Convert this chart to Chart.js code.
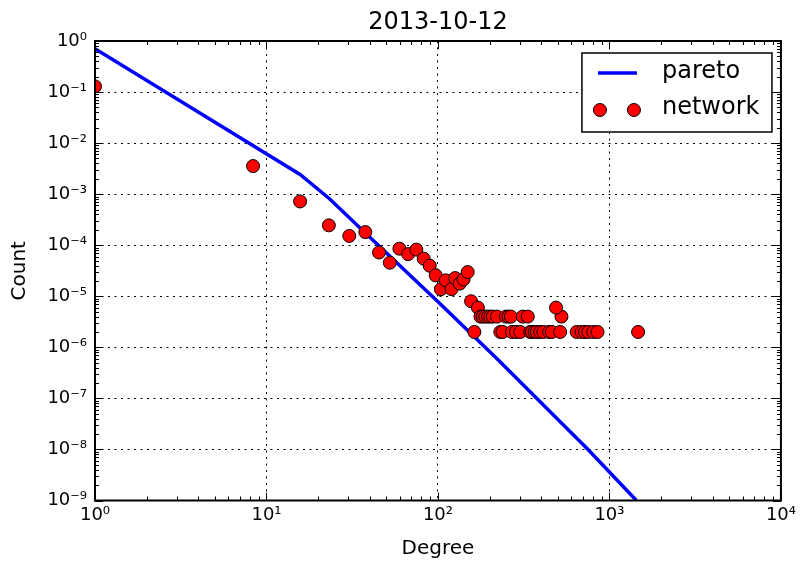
<!DOCTYPE html>
<html>
<head>
<meta charset="utf-8">
<script src="https://cdn.jsdelivr.net/npm/chart.js@4"></script>
<style>
  body { margin: 0; background: #fff; }
  #wrap { width: 800px; height: 563px; }
</style>
</head>
<body>
<div id="wrap"><canvas id="myChart"></canvas></div>
<script>
// ticks (decades)
const xTicks = [1, 10, 100, 1000, 10000];
const yTicks = [1, 1e-1, 1e-2, 1e-3, 1e-4, 1e-5, 1e-6, 1e-7, 1e-8, 1e-9];

// pareto fit line
const paretoDegree = [1, 15.7, 23.3, 36.4, 100.4, 221, 750, 1436];
const paretoCount = [0.706, 2.44e-3, 8.15e-4, 1.95e-4, 7.7e-6, 6.0e-7, 1.0e-8, 1.0e-9];

// network degree distribution
const networkDegree = [
  1, 8.35, 15.7, 23.1, 30.4, 37.7, 45.3, 52.4, 59.6, 67, 74.8, 82.6, 89.5, 97,
  104, 111, 120, 126, 134, 141, 149, 156, 171,
  177, 182.5, 189, 196, 202, 209, 221, 249, 258, 266, 312, 334, 525,
  488,
  163, 231, 238, 270, 285, 302, 345, 353, 366, 377, 395, 412, 445, 461, 516,
  644, 688, 720, 753, 805, 852, 1469
];
const networkCount = [
  0.129, 3.55e-3, 7.2e-4, 2.45e-4, 1.52e-4, 1.81e-4, 7.2e-5, 4.55e-5, 8.55e-5, 6.7e-5, 8.2e-5, 5.45e-5, 3.97e-5, 2.57e-5,
  1.38e-5, 2.05e-5, 1.38e-5, 2.27e-5, 1.77e-5, 2.14e-5, 2.98e-5, 8e-6, 6e-6,
  4e-6, 4e-6, 4e-6, 4e-6, 4e-6, 4e-6, 4e-6, 4e-6, 4e-6, 4e-6, 4e-6, 4e-6, 4e-6,
  6e-6,
  2e-6, 2e-6, 2e-6, 2e-6, 2e-6, 2e-6, 2e-6, 2e-6, 2e-6, 2e-6, 2e-6, 2e-6, 2e-6, 2e-6, 2e-6,
  2e-6, 2e-6, 2e-6, 2e-6, 2e-6, 2e-6, 2e-6
];

const FONT = "'DejaVu Sans', sans-serif";
const sup = { '0': '⁰', '1': '¹', '2': '²', '3': '³', '4': '⁴', '5': '⁵', '6': '⁶', '7': '⁷', '8': '⁸', '9': '⁹', '-': '⁻' };
function powLabel(v) {
  const e = String(Math.round(Math.log10(v)));
  return '10' + e.split('').map(c => sup[c]).join('');
}

function toPoints(xs, ys) {
  return xs.map((x, i) => ({ x: x, y: ys[i] }));
}

// frame + inward ticks on all four sides
const frame = {
  id: 'frame',
  afterDatasetsDraw(chart) {
    const { ctx, chartArea: a, scales: { x, y } } = chart;
    ctx.save();
    ctx.strokeStyle = '#000';
    ctx.lineWidth = 1;
    ctx.beginPath();
    xTicks.forEach((d, i) => {
      for (let m = 1; m <= 9; m++) {
        if (m > 1 && i === xTicks.length - 1) break;
        const px = Math.round(x.getPixelForValue(m * d)) + 0.5;
        const len = m === 1 ? 8 : 4;
        ctx.moveTo(px, a.bottom); ctx.lineTo(px, a.bottom - len);
        ctx.moveTo(px, a.top); ctx.lineTo(px, a.top + len);
      }
    });
    yTicks.forEach((d, i) => {
      for (let m = 1; m <= 9; m++) {
        if (m > 1 && i === 0) break;
        const py = Math.round(y.getPixelForValue(m * d)) + 0.5;
        const len = m === 1 ? 8 : 4;
        ctx.moveTo(a.left, py); ctx.lineTo(a.left + len, py);
        ctx.moveTo(a.right, py); ctx.lineTo(a.right - len, py);
      }
    });
    ctx.stroke();
    ctx.lineWidth = 2;
    ctx.strokeRect(a.left, a.top, a.right - a.left, a.bottom - a.top);
    ctx.restore();
  }
};

// matplotlib-like legend in the upper right corner
const boxLegend = {
  id: 'boxLegend',
  afterDraw(chart) {
    const { ctx, chartArea: a } = chart;
    const line = chart.data.datasets[0];
    const net = chart.data.datasets[1];
    const w = 190, h = 79;
    const left = a.right - 9 - w, top = a.top + 12;
    ctx.save();
    ctx.fillStyle = '#fff';
    ctx.fillRect(left, top, w, h);
    ctx.strokeStyle = '#000';
    ctx.lineWidth = 1.5;
    ctx.strokeRect(left, top, w, h);

    ctx.strokeStyle = line.borderColor;
    ctx.lineWidth = 3.5;
    ctx.beginPath();
    ctx.moveTo(left + 16, top + 20); ctx.lineTo(left + 55, top + 20);
    ctx.stroke();

    ctx.fillStyle = net.backgroundColor;
    ctx.strokeStyle = net.borderColor;
    ctx.lineWidth = 1;
    [left + 18, left + 52].forEach(cx => {
      ctx.beginPath();
      ctx.arc(cx, top + 57, 6.5, 0, Math.PI * 2);
      ctx.fill(); ctx.stroke();
    });

    ctx.fillStyle = '#000';
    ctx.font = '24px ' + FONT;
    ctx.textBaseline = 'middle';
    ctx.fillText(line.label, left + 80, top + 19);
    ctx.fillText(net.label, left + 80, top + 55);
    ctx.restore();
  }
};

const ctx = document.getElementById('myChart');

new Chart(ctx, {
  type: 'scatter',
  data: {
    datasets: [{
      label: 'pareto',
      data: toPoints(paretoDegree, paretoCount),
      showLine: true,
      borderColor: '#0000ff',
      borderWidth: 3.5,
      pointRadius: 0,
      fill: false,
      order: 1
    }, {
      label: 'network',
      data: toPoints(networkDegree, networkCount),
      backgroundColor: '#ff0000',
      borderColor: '#000000',
      borderWidth: 1,
      pointRadius: 6.5,
      clip: 0,
      order: 0
    }]
  },
  options: {
    responsive: true,
    maintainAspectRatio: false,
    animation: false,
    layout: { padding: { left: 0, right: 17, top: 0, bottom: 0 } },
    plugins: {
      legend: { display: false },
      tooltip: { enabled: false },
      title: {
        display: true,
        text: '2013-10-12',
        color: '#000',
        fullSize: false,
        font: { family: FONT, size: 24, weight: 'normal', lineHeight: 1.2 },
        padding: { top: 8, bottom: 4.2 }
      }
    },
    scales: {
      x: {
        type: 'logarithmic',
        min: 1,
        max: 10000,
        afterBuildTicks: s => { s.ticks = xTicks.map(v => ({ value: v })); },
        afterFit: s => { s.height = 62.5; },
        ticks: {
          callback: v => powLabel(v),
          color: '#000',
          padding: 4,
          maxRotation: 0,
          autoSkip: false,
          font: { family: FONT, size: 18 }
        },
        grid: { color: '#000', lineWidth: 1, drawTicks: false },
        border: { display: false, dash: [2, 4.5] },
        title: {
          display: true,
          text: 'Degree',
          color: '#000',
          font: { family: FONT, size: 20, lineHeight: 1.2 },
          padding: { top: 0, bottom: 2 }
        }
      },
      y: {
        type: 'logarithmic',
        min: 1e-9,
        max: 1,
        afterBuildTicks: s => { s.ticks = yTicks.slice().reverse().map(v => ({ value: v })); },
        afterFit: s => { s.width = 95; },
        ticks: {
          callback: v => powLabel(v),
          color: '#000',
          padding: 8,
          autoSkip: false,
          font: { family: FONT, size: 18 }
        },
        grid: { color: '#000', lineWidth: 1, drawTicks: false },
        border: { display: false, dash: [2, 4.5] },
        title: {
          display: true,
          text: 'Count',
          color: '#000',
          font: { family: FONT, size: 20, lineHeight: 1.2 },
          padding: { top: 8, bottom: 0 }
        }
      }
    }
  },
  plugins: [frame, boxLegend]
});
</script>
</body>
</html>
